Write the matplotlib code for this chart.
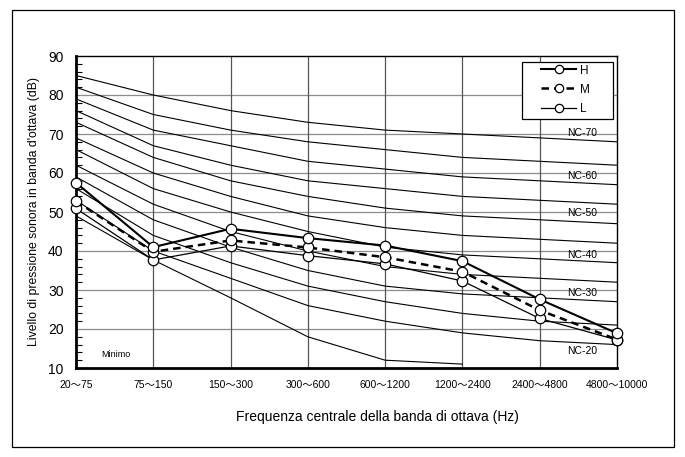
import matplotlib
matplotlib.use('Agg')
import matplotlib.pyplot as plt
from matplotlib.patches import Rectangle

plt.rcParams['font.family'] = ['Liberation Sans', 'Noto Sans CJK JP', 'DejaVu Sans']

# octave bands (old style)
bands = ['20～75', '75～150', '150～300', '300～600', '600～1200',
         '1200～2400', '2400～4800', '4800～10000']

# measured sound pressure levels
level_h = [57.5, 41.0, 45.7, 43.3, 41.4, 37.4, 27.6, 18.9]
level_m = [52.8, 39.8, 42.7, 40.9, 38.4, 34.7, 24.8, 17.3]
level_l = [50.9, 37.7, 41.3, 38.8, 36.7, 32.3, 22.7, 17.2]

# NC curves, NC-20 ... NC-70
nc_names = [20, 25, 30, 35, 40, 45, 50, 55, 60, 65, 70]
nc_curves = [
    [53, 40, 33, 26, 22, 19, 17, 16],
    [56, 44, 37, 31, 27, 24, 22, 21],
    [59, 48, 41, 35, 31, 29, 28, 27],
    [62, 52, 45, 40, 36, 34, 33, 32],
    [66, 56, 50, 45, 41, 39, 38, 37],
    [69, 60, 54, 49, 46, 44, 43, 42],
    [73, 64, 58, 54, 51, 49, 48, 47],
    [76, 67, 62, 58, 56, 54, 53, 52],
    [79, 71, 67, 63, 61, 59, 58, 57],
    [82, 75, 71, 68, 66, 64, 63, 62],
    [85, 80, 76, 73, 71, 70, 69, 68],
]
# threshold of hearing ("Minimo"), first six bands only
minimo = [49, 37.7, 28, 18, 12, 11]

# labelled curves and label heights
nc_label_names = ['NC-70', 'NC-60', 'NC-50', 'NC-40', 'NC-30', 'NC-20']
nc_label_y = [70.3, 59.3, 49.7, 39.0, 29.2, 14.4]

W, H = 685, 457
fig = plt.figure(figsize=(W / 100, H / 100), dpi=100)
ax = fig.add_axes([76 / W, 1 - 368 / H, 541 / W, 312 / H])

# outer frame
fig.patches.append(Rectangle((12 / W, 10 / H), 662 / W, 437 / H,
                             transform=fig.transFigure, fill=False,
                             edgecolor='black', linewidth=0.9))

x = list(range(len(bands)))

for yy in range(20, 90, 10):
    ax.axhline(yy, color='#8c8c8c', linewidth=0.9, zorder=1)
for xx in x[1:-1]:
    ax.axvline(xx, color='#555555', linewidth=0.9, zorder=1)

for curve in nc_curves:
    ax.plot(x, curve, color='black', linewidth=0.8, zorder=2)
ax.plot(x[:len(minimo)], minimo, color='black', linewidth=0.8, zorder=2)

mk = dict(marker='o', markersize=7.5, markerfacecolor='white',
          markeredgecolor='black', markeredgewidth=0.9, clip_on=False, zorder=5)
ax.plot(x, level_l, color='black', linewidth=0.9, label='L', **mk)
ax.plot(x, level_m, color='black', linewidth=1.8, dashes=(3, 2), label='M', **mk)
ax.plot(x, level_h, color='black', linewidth=1.5, label='H', **mk)

for name, yy in zip(nc_label_names, nc_label_y):
    ax.text(6.55, yy, name, fontsize=7.5, ha='center', va='center', zorder=3)
ax.text(0.52, 13.4, 'Minimo', fontsize=6.5, ha='center', va='center')

ax.set_xlim(0, 7)
ax.set_ylim(10, 90)
ax.set_xticks(x)
ax.set_xticklabels(bands, fontsize=7.5)
ax.set_yticks(range(10, 100, 10))
ax.set_yticks(range(10, 91, 2), minor=True)
ax.tick_params(axis='y', which='both', direction='in', labelsize=10, pad=9)
ax.tick_params(axis='y', which='major', length=0)
ax.tick_params(axis='y', which='minor', length=4, width=0.8)
ax.tick_params(axis='x', length=0, pad=9)

ax.spines['left'].set_linewidth(2)
ax.spines['bottom'].set_linewidth(2)
ax.spines['top'].set_linewidth(1)
ax.spines['right'].set_linewidth(1)

ax.set_ylabel("Livello di pressione sonora in banda d'ottava (dB)", fontsize=8.8)
ax.yaxis.set_label_coords(-0.067, 0.5)
ax.set_xlabel('Frequenza centrale della banda di ottava (Hz)', fontsize=10)
ax.xaxis.set_label_coords(0.558, -0.135)

# legend box drawn separately so it can be wider than its content
fig.patches.append(Rectangle((522 / W, 1 - 119 / H), 91 / W, 57 / H,
                             transform=fig.transFigure, facecolor='white',
                             edgecolor='black', linewidth=0.9, zorder=6))
handles, labels = ax.get_legend_handles_labels()
leg = fig.legend(handles[::-1], labels[::-1], loc='upper left',
                 bbox_to_anchor=(541 / W, 1 - 64.5 / H), fontsize=8.5,
                 frameon=False, handlelength=3.0, markerscale=0.8,
                 borderpad=0, labelspacing=0.6, handletextpad=0.3,
                 borderaxespad=0)
leg.set_zorder(7)

fig.savefig('out.png', dpi=100)
